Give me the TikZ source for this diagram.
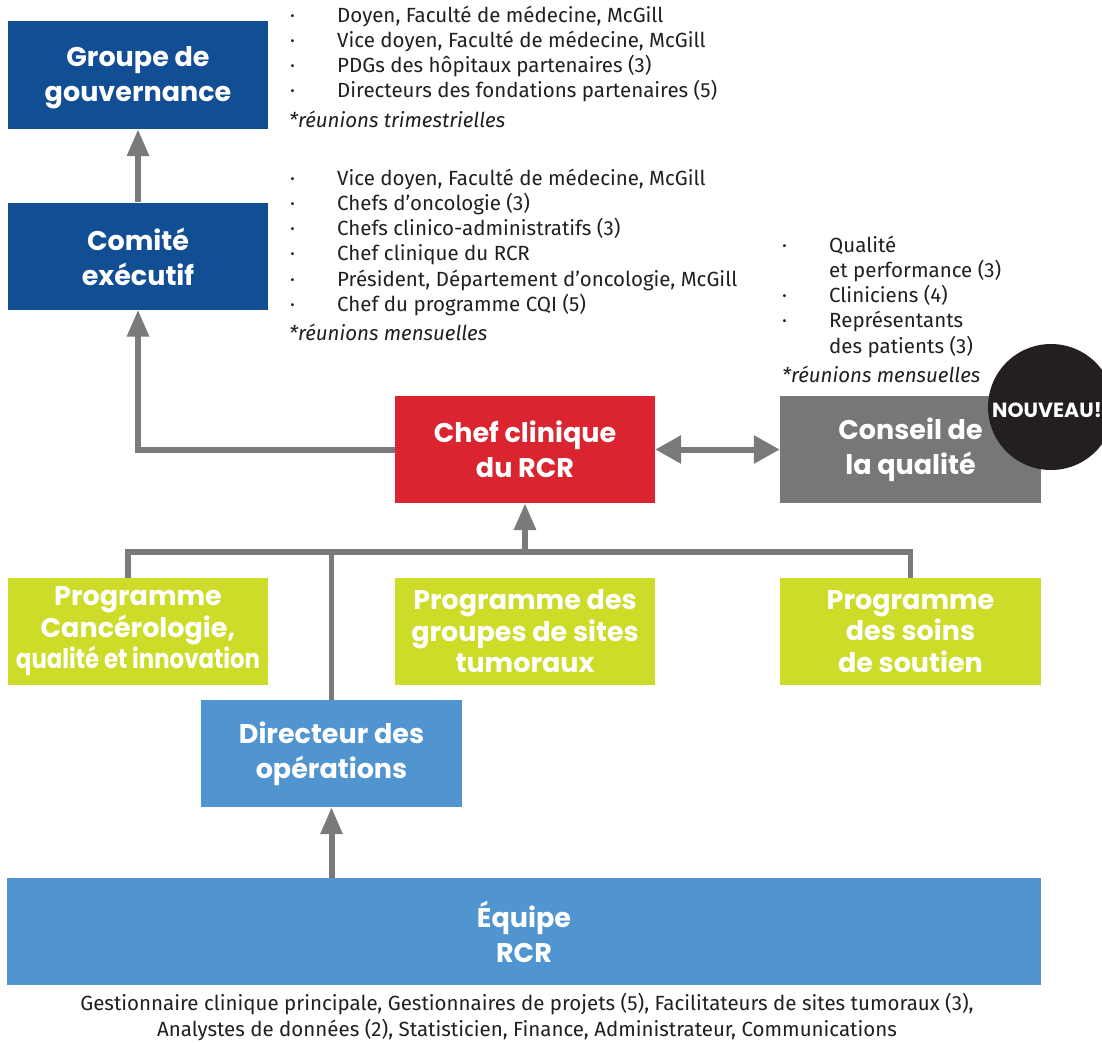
\documentclass[tikz,border=0pt]{standalone}
\usepackage{fontspec}
\usepackage{graphicx}
\setmainfont{Fira Sans}
\newfontfamily\headfont{Poppins}
\usetikzlibrary{arrows.meta, positioning, calc}
\definecolor{govblue}{RGB}{18,78,147}
\definecolor{rcrred}{RGB}{218,37,48}
\definecolor{boardgrey}{RGB}{119,119,119}
\definecolor{progreen}{RGB}{205,220,41}
\definecolor{opsblue}{RGB}{81,149,208}
\definecolor{linkgrey}{RGB}{122,122,122}
\definecolor{inkblack}{RGB}{35,31,32}

\begin{document}
\begin{tikzpicture}[x=1pt,y=-1pt,
    unit/.style={inner sep=0pt, minimum width=260pt, minimum height=107pt, text=white, align=center,
      font=\headfont\bfseries\fontsize{27}{35}\selectfont},
    prog/.style={unit, fill=progreen, font=\headfont\bfseries\fontsize{27}{31.5}\selectfont},
    link/.style={draw=linkgrey, line width=5.5pt},
    uparrow/.style={link, line width=6pt, -{Triangle[width=21pt,length=27pt]}},
    item/.style={anchor=base west, inner sep=0pt, text=inkblack, font=\fontsize{20.5}{25}\selectfont},
    note/.style={item, font=\itshape\fontsize{20.5}{25}\selectfont}]
      \clip (0,0) rectangle (1102,1042);
      \fill[white] (0,0) rectangle (1102,1042);
      % boxes
      \node[unit, fill=govblue, minimum height=108pt] (gouv) at (138,75) {\strut Groupe de\\gouvernance};
      \node[unit, fill=govblue] (comite) at (138,256) {\strut Comité\\exécutif};
      \node[unit, fill=rcrred] (chef) at (525,449.5) {Chef clinique\\du RCR};
      \node[unit, fill=boardgrey, minimum width=261pt] (conseil) at (910.5,449.5) {Conseil de\\la qualité};
      \node[circle, fill=inkblack, minimum size=126pt, inner sep=0pt] (nouveau) at (1051,407) {};
      \node[text=white, inner sep=0pt, font=\headfont\bfseries\fontsize{20.5}{20.5}\selectfont] (nouveaulbl) at (1047,410) {NOUVEAU!};
      \node[prog] (prog1) at (138,631.5) {Programme\\Cancérologie,\\\resizebox{244pt}{\height}{qualité et innovation}};
      \node[prog] (prog2) at (525,631.5) {Programme des\\groupes de sites\\tumoraux};
      \node[prog, minimum width=261pt] (prog3) at (910.5,631.5) {Programme\\des soins\\de soutien};
      \node[unit, fill=opsblue, minimum width=261pt] (dir) at (331.5,753.5) {Directeur des\\opérations};
      \node[unit, fill=opsblue, minimum width=1034pt] (equipe) at (524,931.5) {Équipe\\RCR};
      \node[align=center, inner sep=0pt, text=inkblack, font=\fontsize{20.5}{25.5}\selectfont] (staff) at (527,1017)
        {Gestionnaire clinique principale, Gestionnaires de projets (5), Facilitateurs de sites tumoraux (3),\\
         Analystes de données (2), Statisticien, Finance, Administrateur, Communications};
      % connectors
      \coordinate (bus) at (525,552);
      \draw[uparrow] (comite) -- (gouv);
      \draw[uparrow] (chef.west) -| (comite.south);
      \draw[link, line width=6pt, {Triangle[width=27pt,length=26pt]}-{Triangle[width=27pt,length=26pt]}] (chef.east) -- (conseil.west);
      \draw[link] ([xshift=-10pt]prog1.north) |- (bus) -| (prog3.north);
      \draw[uparrow] (bus) -- (chef.south);
      \draw[link] (dir.north) -- (dir.north |- bus);
      \draw[uparrow] (equipe.north -| dir.north) -- (dir.south);
      % member lists
      \foreach \txt [count=\i, evaluate=\i as \yy using {22+25.3*(\i-1)}] in {{Doyen, Faculté de médecine, McGill},
          {Vice doyen, Faculté de médecine, McGill}, {PDGs des hôpitaux partenaires (3)},
          {Directeurs des fondations partenaires (5)}} {
        \node[item] (gdot\i) at (290,\yy) {·};
        \node[item] (gtxt\i) at (337,\yy) {\txt};
      }
      \node[note] (gnote) at (289,127) {*réunions trimestrielles};
      \foreach \txt [count=\i, evaluate=\i as \yy using {185+25.3*(\i-1)}] in {{Vice doyen, Faculté de médecine, McGill},
          {Chefs d'oncologie (3)}, {Chefs clinico-administratifs (3)}, {Chef clinique du RCR},
          {Président, Département d'oncologie, McGill}, {Chef du programme CQI (5)}} {
        \node[item] (cdot\i) at (290,\yy) {·};
        \node[item] (ctxt\i) at (337,\yy) {\txt};
      }
      \node[note] (cnote) at (289,340) {*réunions mensuelles};
      \foreach \txt [count=\i, evaluate=\i as \yy using {252+25.3*(\i-1)}] in {Qualité, {et performance (3)},
          {Cliniciens (4)}, Représentants, {des patients (3)}} {
        \node[item] (qtxt\i) at (829,\yy) {\txt};
      }
      \foreach \i in {1,3,4} {
        \node[item] (qdot\i) at (782,{252+25.3*(\i-1)}) {·};
      }
      \node[note] (qnote) at (782,382) {*réunions mensuelles};
    \end{tikzpicture}
\end{document}
